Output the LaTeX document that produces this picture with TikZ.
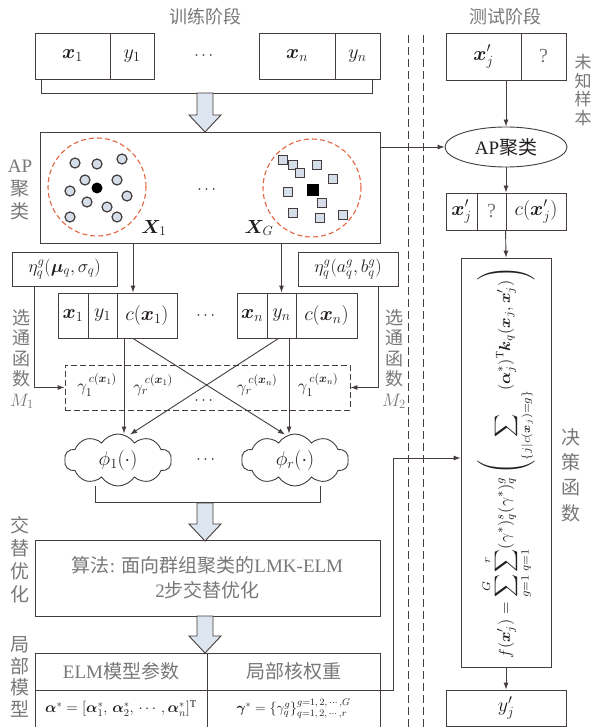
\RequirePackage{fix-cm}
\documentclass[tikz,border=0pt]{standalone}
\usepackage{amsmath}
\usepackage{bm}
\usepackage{graphicx}
\usepackage{fontspec}
\setmainfont{Liberation Serif}
\newfontfamily\cjk{Noto Sans CJK SC}
\usetikzlibrary{shapes.geometric,shapes.symbols,arrows.meta,calc}
\definecolor{lc}{HTML}{453D3D}
\definecolor{tc}{HTML}{787878}
\definecolor{mc}{HTML}{231E1E}
\definecolor{bf}{HTML}{DCE5F0}
\definecolor{pf}{HTML}{D5DEE8}
\definecolor{rd}{HTML}{E2653F}
\newcommand\zh[1]{{\cjk #1}}
\newcommand\blockarr[3]{\draw[lc,line width=0.9pt,fill=bf] (#1-8,#2) -- (#1+8,#2) -- (#1+8,#3-17) -- (#1+16,#3-17) -- (#1,#3) -- (#1-16,#3-17) -- (#1-8,#3-17) -- cycle;}
\begin{document}
\begin{tikzpicture}[x=1pt,y=-1pt,
 cell/.style={draw=lc,line width=0.9pt,inner sep=0pt,text=mc,font=\fontsize{20}{22}\selectfont},
 lab/.style={text=tc,inner sep=0pt,align=center},
 conn/.style={draw=lc,line width=0.9pt},
 arr/.style={conn,-{Latex[length=7pt,width=5pt]}},
 title/.style={text=tc,font=\cjk\fontsize{18}{20}\selectfont,inner sep=0pt},
 dotsn/.style={text=mc,font=\fontsize{16}{18}\selectfont,inner sep=0pt},
]
\useasboundingbox[fill=white] (0,0) rectangle (595,727);

% titles
\node[title] (tl) at (205,17) {训练阶段};
\node[title] (tr) at (505,17) {测试阶段};

% separating dashed lines
\draw[lc,line width=0.9pt,dash pattern=on 8pt off 4pt] (408,35) -- (408,727);
\draw[lc,line width=0.9pt,dash pattern=on 8pt off 4pt] (423,35) -- (423,727);

% training samples
\node[cell,minimum width=75,minimum height=46] (a1x) at (72.5,56) {$\bm{x}_1$};
\node[cell,minimum width=44,minimum height=46] (a1y) at (132,56) {$y_1$};
\node[cell,minimum width=76,minimum height=46] (anx) at (297,56) {$\bm{x}_n$};
\node[cell,minimum width=45,minimum height=46] (any) at (357.5,56) {$y_n$};
\node[dotsn] (adots) at (205,56) {$\cdots$};
\draw[conn] ([xshift=7pt]a1x.south west) -- ++(0,14) -| ([xshift=-8pt]any.south east);
\blockarr{205}{93}{132}

% AP clustering box
\node[cell,minimum width=340,minimum height=111] (ap) at (210,187.5) {};
\node[lab,font=\cjk\fontsize{19}{23}\selectfont] (aplab) at (20,190) {{\rmfamily AP}\\聚\\类};
\draw[rd,line width=1.1pt,dash pattern=on 5pt off 3pt] (97,187) circle[radius=49pt];
\draw[rd,line width=1.1pt,dash pattern=on 5pt off 3pt] (312,188) circle[radius=49pt];
\foreach \p in {(75,163),(97,164),(122,159),(85,180),(117,180),(70,191),(127,196),(87,202),(107,207),(70,217),(117,217)}
  \draw[lc,fill=pf,line width=1.2pt] \p circle[radius=5pt];
\fill[black] (97,188) circle[radius=5.5pt];
\foreach \p in {(283,160),(293,165),(300,173),(317,165),(333,179),(288,192),(322,203),(293,213),(320,218),(343,215)}
  \draw[lc,fill=pf,line width=1.2pt] \p ++(-4.5,-4.5) rectangle ++(9,9);
\fill[black] (307,184) rectangle (319,196);
\node[text=mc,font=\fontsize{19}{21}\selectfont] (X1) at (154,228) {$\bm{X}_1$};
\node[text=mc,font=\fontsize{19}{21}\selectfont] (XG) at (259,228) {$\bm{X}_G$};
\node[dotsn] (apdots) at (208,190) {$\cdots$};

% gate parameter boxes
\node[cell,minimum width=105,minimum height=34,font=\fontsize{18}{20}\selectfont] (e1) at (64.5,269) {$\eta^g_q(\bm{\mu}_q,\sigma_q)$};
\node[cell,minimum width=100,minimum height=34,font=\fontsize{18}{20}\selectfont] (e2) at (348,269) {$\eta^g_q(a^g_q,b^g_q)$};

% samples with cluster labels
\node[cell,minimum width=30,minimum height=45] (l1) at (73,315.5) {$\bm{x}_1$};
\node[cell,minimum width=29,minimum height=45] (l2) at (102.5,315.5) {$y_1$};
\node[cell,minimum width=60,minimum height=45] (l3) at (147,315.5) {$c(\bm{x}_1)$};
\node[cell,minimum width=30,minimum height=45] (r1) at (252,315.5) {$\bm{x}_n$};
\node[cell,minimum width=29,minimum height=45] (r2) at (281.5,315.5) {$y_n$};
\node[cell,minimum width=61,minimum height=45] (r3) at (326.5,315.5) {$c(\bm{x}_n)$};
\node[dotsn] (ldots) at (207,316) {$\cdots$};
\draw[arr] ([xshift=-14pt]l3.north |- ap.south) -- ([xshift=-14pt]l3.north);
\draw[arr] (r2.north |- ap.south) -- (r2.north);

% gate values (dashed box)
\node[draw=lc,line width=0.9pt,dash pattern=on 6pt off 3pt,minimum width=285,minimum height=45,inner sep=0pt] (g) at (207.5,387.5) {};
\node[text=mc,font=\fontsize{17}{19}\selectfont] (g1) at (97,385) {$\gamma_1^{\,c(\bm{x}_1)}$};
\node[text=mc,font=\fontsize{17}{19}\selectfont] (g2) at (153,385) {$\gamma_r^{\,c(\bm{x}_1)}$};
\node[text=mc,font=\fontsize{17}{19}\selectfont] (g3) at (257,385) {$\gamma_r^{\,c(\bm{x}_n)}$};
\node[text=mc,font=\fontsize{17}{19}\selectfont] (g4) at (318,385) {$\gamma_1^{\,c(\bm{x}_n)}$};
\node[dotsn] (gdots) at (205,401) {$\cdots$};
\draw[arr] ([xshift=23pt]e1.south west) |- (g.west);
\draw[arr] ([xshift=-20pt]e2.south east) |- (g.east);
\node[lab,font=\cjk\fontsize{18}{20.5}\selectfont] (m1lab) at (22,359) {选\\通\\函\\数\\{\rmfamily$M_1$}};
\node[lab,font=\cjk\fontsize{18}{20.5}\selectfont] (m2lab) at (394,359) {选\\通\\函\\数\\{\rmfamily$M_2$}};

% kernels
\node[cloud,draw=lc,line width=0.9pt,cloud puffs=10,cloud puff arc=115,aspect=2.1,minimum width=107pt,minimum height=52pt,inner sep=0pt,text=mc,font=\fontsize{20}{22}\selectfont] (k1) at (118,460) {$\phi_1(\cdot)$};
\node[cloud,draw=lc,line width=0.9pt,cloud puffs=10,cloud puff arc=115,aspect=2.1,minimum width=107pt,minimum height=52pt,inner sep=0pt,text=mc,font=\fontsize{20}{22}\selectfont] (k2) at (295,460) {$\phi_r(\cdot)$};
\node[dotsn] (kdots) at (207,460) {$\cdots$};
\draw[arr] ([xshift=-23pt]l3.south) -- ([xshift=-23pt]l3.south |- k1.north);
\draw[arr] ([xshift=-14pt]l3.south) -- ([xshift=-10pt,yshift=-1pt]k2.north);
\draw[arr] ([xshift=-3pt]r2.south) -- ([xshift=12pt,yshift=-1pt]k1.north);
\draw[arr] ([xshift=7.5pt]r2.south) -- ([xshift=7.5pt]r2.south |- k2.north);
\draw[conn] ([xshift=-23pt]k1.south) -- ++(0,16) -| ([xshift=25pt]k2.south);
\blockarr{205}{503}{541}

% alternating optimisation
\node[cell,minimum width=345,minimum height=76,align=center,text=tc,font=\fontsize{19}{25}\selectfont] (alg) at (207.5,578) {\zh{算法}: \zh{面向群组聚类的}LMK-ELM\\2\zh{步交替优化}};
\node[lab,font=\cjk\fontsize{19}{23}\selectfont] (alglab) at (20,560) {交\\替\\优\\化};
\blockarr{205}{616}{653}

% local model
\node[cell,minimum width=172,minimum height=37,text=tc,font=\fontsize{19}{21}\selectfont] (m1) at (121,671.5) {ELM\zh{模型参数}};
\node[cell,minimum width=173,minimum height=37,text=tc,font=\cjk\fontsize{19}{21}\selectfont] (m2) at (293.5,671.5) {局部核权重};
\node[cell,minimum width=172,minimum height=37,font=\fontsize{15}{17}\selectfont] (m3) at (121,708.5) {$\bm{\alpha}^*=[\bm{\alpha}^*_1,\,\bm{\alpha}^*_2,\,\cdots,\bm{\alpha}^*_n]^{\mathrm{T}}$};
\node[cell,minimum width=173,minimum height=37,font=\fontsize{14}{16}\selectfont] (m4) at (293.5,708.5) {$\bm{\gamma}^*=\{\gamma^g_q\}^{g=1,\,2,\,\cdots,G}_{q=1,\,2,\,\cdots,r}$};
\node[lab,font=\cjk\fontsize{19}{21.7}\selectfont] (mlab) at (20,677) {局\\部\\模\\型};

% test stage
\node[cell,minimum width=75,minimum height=47] (t1) at (483.5,56.5) {$\bm{x}'_j$};
\node[cell,minimum width=45,minimum height=47,text=tc] (t2) at (543.5,56.5) {?};
\node[lab,font=\cjk\fontsize{17}{18.5}\selectfont] (tlab) at (583,90) {未\\知\\样\\本};
\node[ellipse,draw=lc,line width=0.9pt,minimum width=122,minimum height=40,inner sep=0pt,text=mc,font=\fontsize{19}{21}\selectfont] (ap2) at (506,147) {AP\zh{聚类}};
\draw[arr] (t1.south -| ap2.north) -- (ap2.north);
\draw[arr] (ap.east |- ap2.west) -- (ap2.west);
\node[cell,minimum width=31,minimum height=37] (u1) at (461.5,211.5) {$\bm{x}'_j$};
\node[cell,minimum width=29,minimum height=37,text=tc] (u2) at (491.5,211.5) {?};
\node[cell,minimum width=60,minimum height=37] (u3) at (536,211.5) {$c(\bm{x}'_j)$};
\draw[arr] (ap2.south) -- (ap2.south |- u2.north);

% decision function
\node[cell,minimum width=90,minimum height=409] (fbox) at (506,462.5) {};
\node[rotate=90,inner sep=0pt,text=mc] (fx) at (fbox.center) {\resizebox{392pt}{!}{$\displaystyle f(\bm{x}'_j)=\sum_{g=1}^{G}\sum_{q=1}^{r}(\gamma^*)^s_q(\gamma^*)^g_q\left(\sum_{\{j|c(\bm{x}_j)=g\}}(\bm{\alpha}^*_j)^{\mathrm{T}}\bm{k}_q(\bm{x}_j,\bm{x}'_j)\right)$}};
\draw[arr] (u3.south west) -- (fbox.north);
\node[lab,font=\cjk\fontsize{19}{25.3}\selectfont] (flab) at (571,475) {决\\策\\函\\数};
\draw[arr] (m2.south east) -- ++(13,0) |- ([yshift=4.5pt]fbox.west);
\node[cell,minimum width=120,minimum height=36] (yout) at (506,708) {$y'_j$};
\draw[arr] (fbox.south) -- (yout.north);
\end{tikzpicture}
\end{document}
